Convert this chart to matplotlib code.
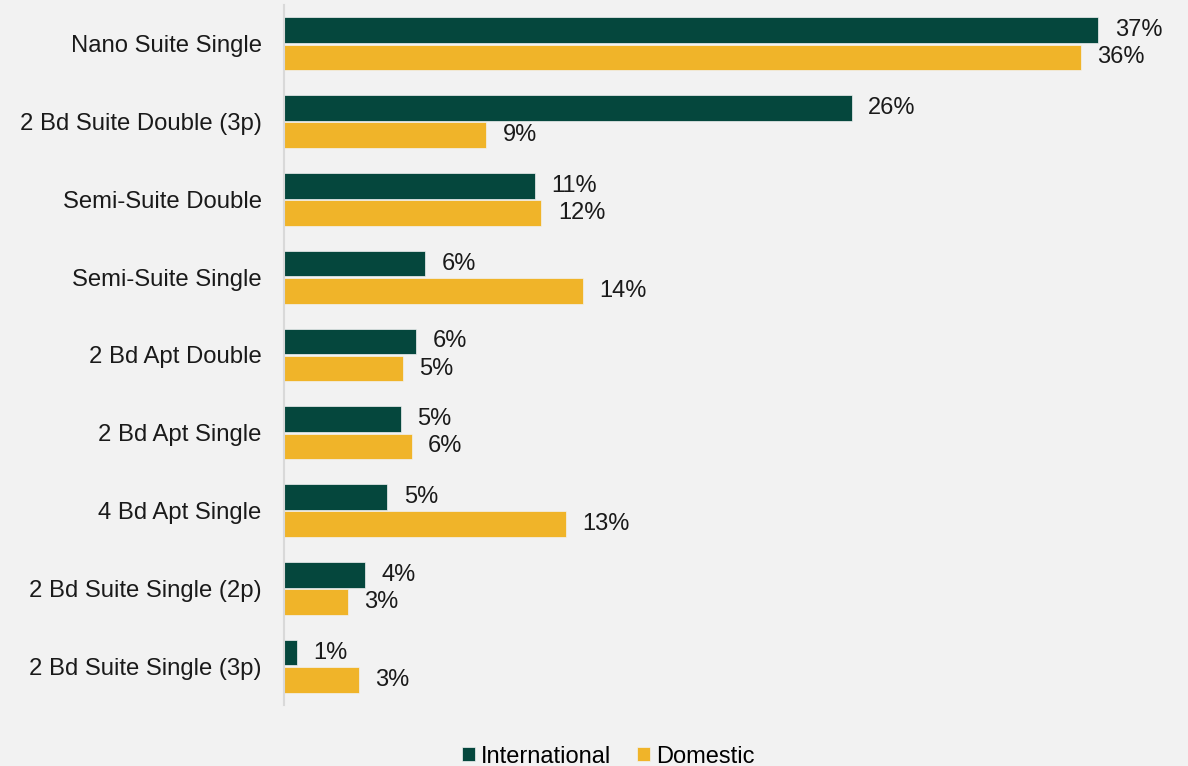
import numpy as np
import matplotlib.pyplot as plt

plt.rcParams['font.family'] = ['Liberation Sans', 'DejaVu Sans']

room_types = [
    "Nano Suite Single",
    "2 Bd Suite Double (3p)",
    "Semi-Suite Double",
    "Semi-Suite Single",
    "2 Bd Apt Double",
    "2 Bd Apt Single",
    "4 Bd Apt Single",
    "2 Bd Suite Single (2p)",
    "2 Bd Suite Single (3p)",
]
international = [37.0, 25.8, 11.4, 6.4, 6.0, 5.3, 4.7, 3.7, 0.6]
domestic = [36.2, 9.2, 11.7, 13.6, 5.4, 5.8, 12.8, 2.9, 3.4]

green = '#05473d'
gold = '#f0b429'
bg = '#f2f2f2'

fig = plt.figure(figsize=(11.88, 7.66), dpi=100, facecolor=bg)
ax = fig.add_axes([0.239, 0.0796, 0.741, 0.914], facecolor=bg)

y = np.arange(len(room_types))
h = 0.33
off = 0.175

b1 = ax.barh(y - off, international, height=h, color=green, edgecolor='#f2f2f2',
             linewidth=0.5, label='International')
b2 = ax.barh(y + off, domestic, height=h, color=gold, edgecolor='#f2f2f2',
             linewidth=0.5, label='Domestic')

for bars, vals in ((b1, international), (b2, domestic)):
    for bar, v in zip(bars, vals):
        ax.text(v + 0.75, bar.get_y() + bar.get_height() / 2, f"{v:.0f}%",
                va='center', ha='left', fontsize=17, color='#1a1a1a')

ax.set_xlim(0, 40)
ax.set_ylim(len(room_types) - 0.5, -0.5)
ax.set_yticks(y)
ax.set_yticklabels(room_types, fontsize=17.2, color='#1a1a1a')
ax.tick_params(axis='y', length=0, pad=16)
ax.set_xticks([])

for side in ('top', 'right', 'bottom'):
    ax.spines[side].set_visible(False)
ax.spines['left'].set_color('#d9d9d9')
ax.spines['left'].set_linewidth(1.5)

fig.legend(handles=[b1, b2], loc='lower center', bbox_to_anchor=(0.512, -0.03),
           ncol=2, frameon=False, fontsize=17, handlelength=0.55, handleheight=0.55,
           handletextpad=0.25, columnspacing=1.1)

fig.savefig('out.png', dpi=100, facecolor=bg)
